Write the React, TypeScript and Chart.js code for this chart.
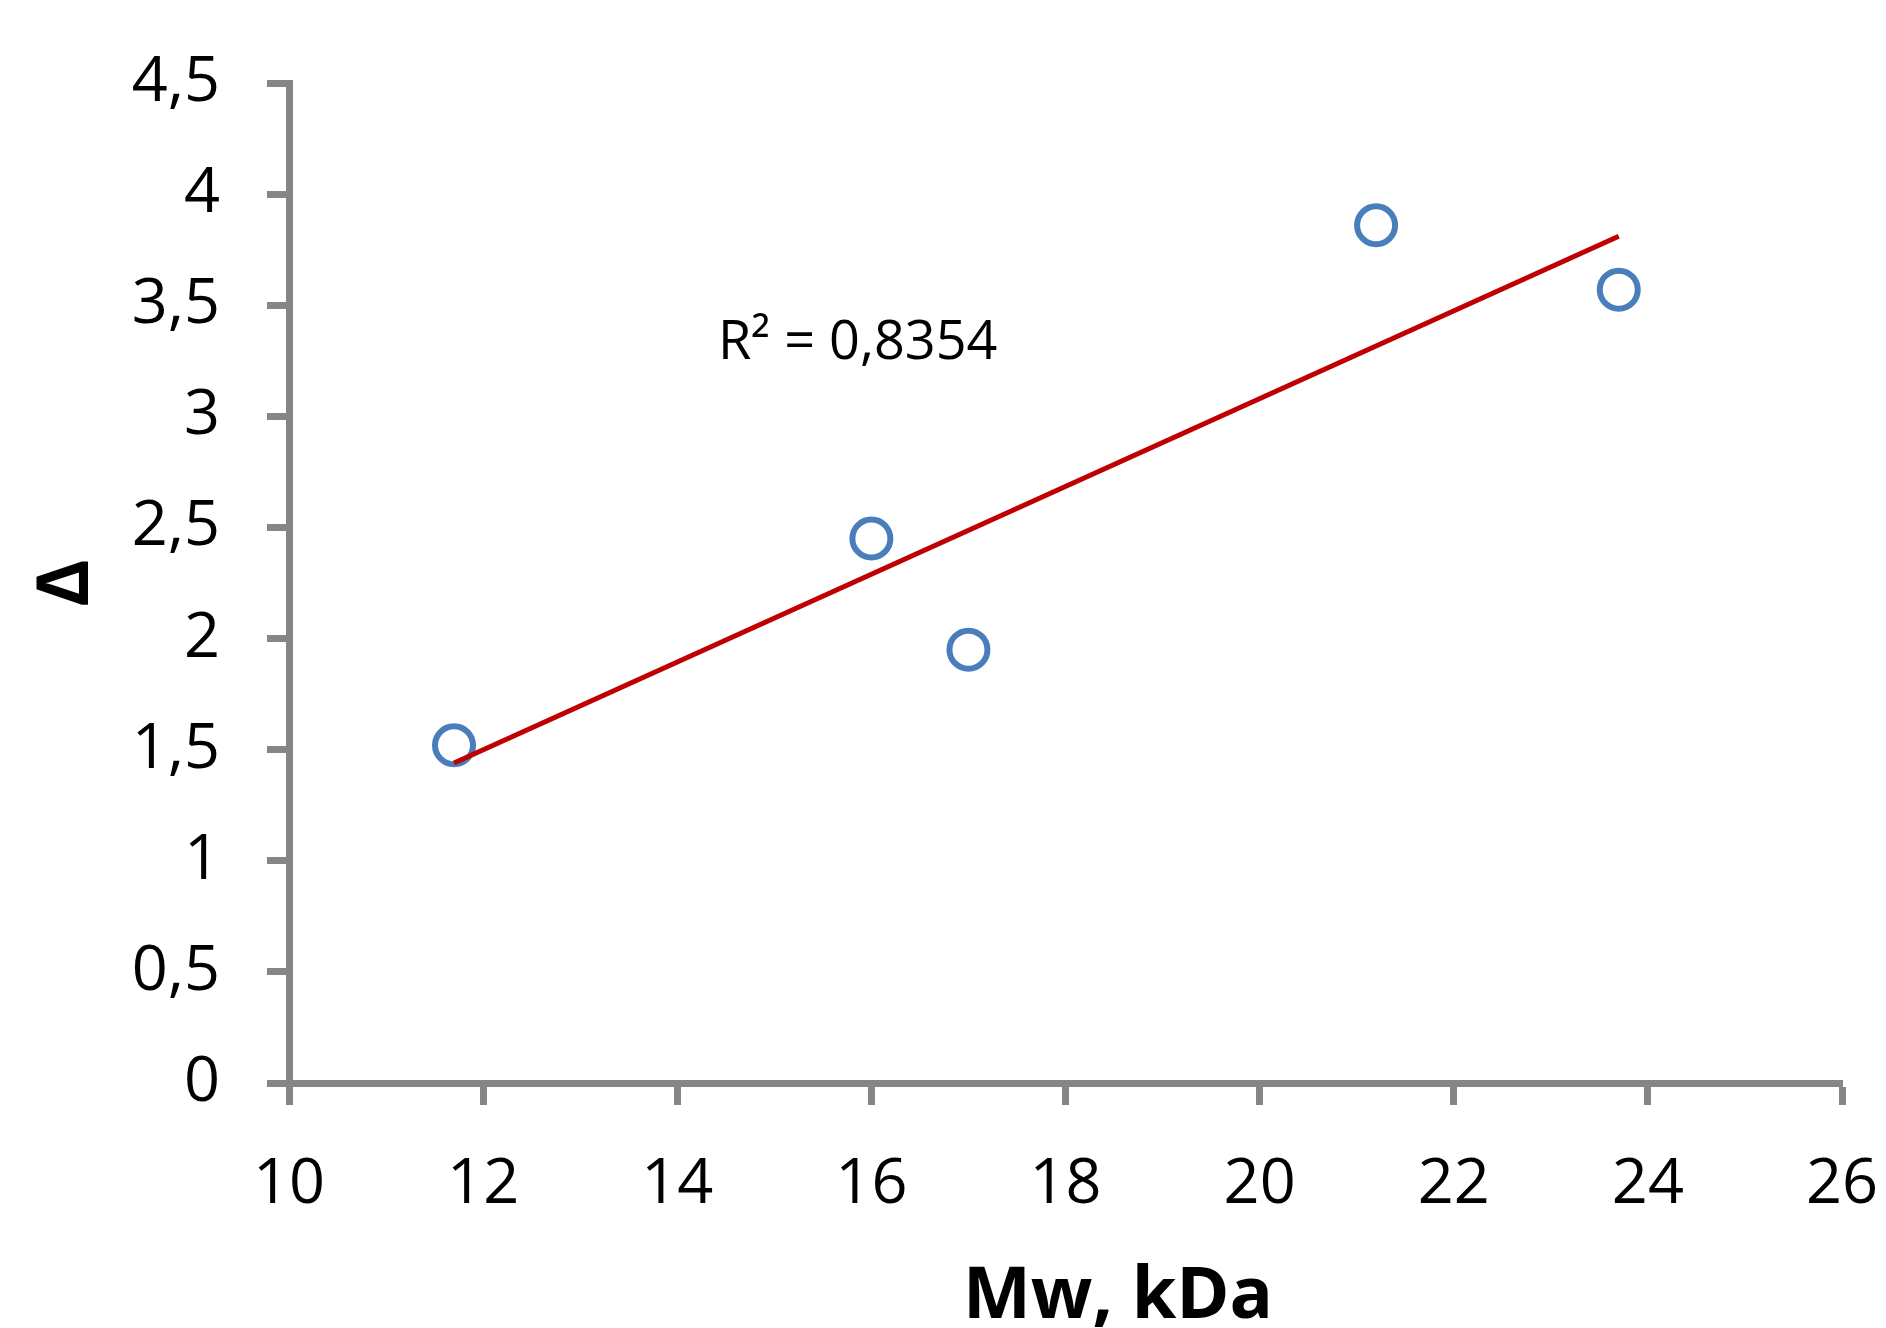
import React, { useEffect, useRef } from "react";
import { Chart, registerables } from "chart.js";

Chart.register(...registerables);

// Data
const mwValues = [11.7, 16.0, 17.0, 21.2, 23.7];
const deltaValues = [1.52, 2.45, 1.95, 3.86, 3.57];

// Trend line end points (linear fit as drawn)
const trendX = [11.7, 23.7];
const trendY = [1.44, 3.81];

const xTickLabels = ["10", "12", "14", "16", "18", "20", "22", "24", "26"];
const yTickLabels = ["0", "0,5", "1", "1,5", "2", "2,5", "3", "3,5", "4", "4,5"];

const xTitle = "Mw, kDa";
const yTitle = "Δ";
const r2Label = "R² = 0,8354";

const W = 1886;
const H = 1328;
const FONT = "'Open Sans', 'Noto Sans', sans-serif";
const AXIS = "#868686";

export default function App() {
  const ref = useRef<HTMLCanvasElement | null>(null);

  useEffect(() => {
    if (!ref.current) return;

    const annotate = {
      id: "annotate",
      afterDraw(chart: any) {
        const ctx = chart.ctx;
        ctx.save();
        ctx.fillStyle = "#000";
        ctx.textBaseline = "alphabetic";
        ctx.textAlign = "left";
        ctx.font = `54px ${FONT}`;
        ctx.fillText(r2Label, 718, 359);
        ctx.font = `bold 72px ${FONT}`;
        ctx.textAlign = "center";
        ctx.fillText(xTitle, 1118, 1318);
        ctx.restore();
      },
    };

    const chart = new Chart(ref.current, {
      type: "scatter",
      data: {
        datasets: [
          {
            label: "trend",
            data: trendX.map((x, i) => ({ x, y: trendY[i] })),
            showLine: true,
            borderColor: "#C00000",
            borderWidth: 5,
            pointRadius: 0,
            order: 0,
          },
          {
            label: "points",
            data: mwValues.map((x, i) => ({ x, y: deltaValues[i] })),
            pointStyle: "circle",
            pointRadius: 19,
            pointBorderWidth: 6,
            borderColor: "#4A7EBB",
            backgroundColor: "rgba(0,0,0,0)",
            order: 1,
          },
        ],
      },
      plugins: [annotate],
      options: {
        responsive: false,
        animation: false,
        layout: { padding: { left: 0, top: 83, right: 44, bottom: 0 } },
        plugins: {
          legend: { display: false },
          tooltip: { enabled: false },
          title: { display: false },
        },
        scales: {
          x: {
            type: "linear",
            min: 10,
            max: 26,
            afterFit: (s: any) => {
              s.height = 245;
              s.paddingLeft = 0;
              s.paddingRight = 0;
            },
            ticks: {
              stepSize: 2,
              color: "#000",
              font: { family: FONT, size: 63 },
              padding: 42,
              maxRotation: 0,
              callback: (_v: any, i: number) => xTickLabels[i],
            },
            grid: {
              drawOnChartArea: false,
              drawTicks: true,
              tickLength: 22,
              tickWidth: 7,
              tickColor: AXIS,
            },
            border: { display: true, color: AXIS, width: 7 },
          },
          y: {
            type: "linear",
            min: 0,
            max: 4.5,
            afterFit: (s: any) => {
              s.width = 289;
              s.paddingTop = 0;
              s.paddingBottom = 0;
            },
            ticks: {
              stepSize: 0.5,
              color: "#000",
              font: { family: FONT, size: 63 },
              padding: 47,
              callback: (_v: any, i: number) => yTickLabels[i],
            },
            grid: {
              drawOnChartArea: false,
              drawTicks: true,
              tickLength: 22,
              tickWidth: 7,
              tickColor: AXIS,
            },
            border: { display: true, color: AXIS, width: 7 },
            title: {
              display: true,
              text: yTitle,
              color: "#000",
              font: { family: FONT, size: 72, weight: "bold" },
              padding: { top: 24, bottom: 0 },
            },
          },
        },
      },
    });

    return () => chart.destroy();
  }, []);

  return (
    <div style={{ position: "absolute", left: 0, top: 0, width: W, height: H, background: "#fff" }}>
      <canvas ref={ref} width={W} height={H} style={{ width: W, height: H, display: "block" }} />
    </div>
  );
}
